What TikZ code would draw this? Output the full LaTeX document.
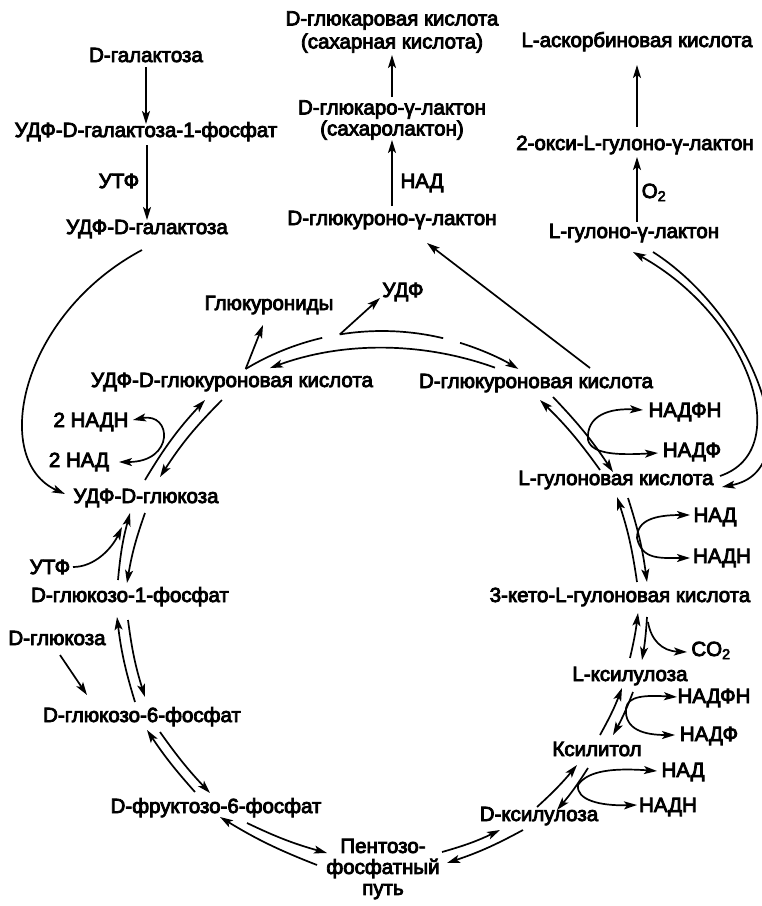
\documentclass[tikz,border=0pt]{standalone}
\usepackage{fontspec}
\setmainfont{Liberation Sans}[FakeBold=4]
\usetikzlibrary{arrows.meta,calc}
\begin{document}
\begin{tikzpicture}[x=1pt,y=-1pt,
  lbl/.style={inner sep=0pt, text height=14pt, text depth=4pt, font=\fontsize{20.5}{23}\selectfont},
  mlbl/.style={inner sep=0pt, align=center},
  ln/.style={line width=1.7pt},
  arr/.style={line width=1.7pt, -{Stealth[length=13pt,width=8pt,inset=3pt]}},
  arrs/.style={line width=1.7pt, {Stealth[length=13pt,width=8pt,inset=3pt]}-{Stealth[length=13pt,width=8pt,inset=3pt]}}]
\fill[white] (0,0) rectangle (762,906);
\path[use as bounding box] (0,0) rectangle (762,906);

% ---- nodes ----
\node[lbl] (gal) at (146,57) {D-галактоза};
\node[lbl] (udpgal1p) at (146,132) {УДФ-D-галактоза-1-фосфат};
\node[lbl] (utf1) at (119,183) {УТФ};
\node[lbl] (udpgal) at (147,229) {УДФ-D-галактоза};
\node[mlbl,font=\fontsize{20.5}{23}\selectfont] (glucar) at (392,32) {D-глюкаровая кислота\\(сахарная кислота)};
\node[mlbl,font=\fontsize{20.5}{21}\selectfont] (glucarlac) at (392,120) {D-глюкаро-γ-лактон\\(сахаролактон)};
\node[lbl] (nad1) at (422,183) {НАД};
\node[lbl] (glclac) at (392,220) {D-глюкуроно-γ-лактон};
\node[lbl] (asc) at (637,42) {L-аскорбиновая кислота};
\node[lbl] (oxy) at (635,145) {2-окси-L-гулоно-γ-лактон};
\node[lbl] (o2) at (654,193) {O\textsubscript{2}};
\node[lbl] (gullac) at (634,233) {L-гулоно-γ-лактон};
\node[lbl] (gluc) at (269,305) {Глюкурониды};
\node[lbl] (udp) at (403,292) {УДФ};
\node[lbl] (udpglcA) at (232,382) {УДФ-D-глюкуроновая кислота};
\node[lbl] (glcA) at (536,383) {D-глюкуроновая кислота};
\node[lbl] (nadh2) at (91,422) {2 НАДН};
\node[lbl] (nad2) at (79,462) {2 НАД};
\node[lbl] (udpglc) at (146,498) {УДФ-D-глюкоза};
\node[lbl] (utf2) at (50,569) {УТФ};
\node[lbl] (g1p) at (130,597) {D-глюкозо-1-фосфат};
\node[lbl] (glc) at (57,640) {D-глюкоза};
\node[lbl] (g6p) at (142,717) {D-глюкозо-6-фосфат};
\node[lbl] (f6p) at (216,808) {D-фруктозо-6-фосфат};
\node[mlbl,font=\fontsize{20.5}{21}\selectfont] (ppp) at (383,869) {Пентозо-\\фосфатный\\путь};
\node[lbl] (dxyl) at (539,816) {D-ксилулоза};
\node[lbl] (xylt) at (597,751) {Ксилитол};
\node[lbl] (nad3) at (683,772) {НАД};
\node[lbl] (nadh3) at (668,807) {НАДН};
\node[lbl] (lxyl) at (630,676) {L-ксилулоза};
\node[lbl] (nadph3) at (714,698) {НАДФН};
\node[lbl] (nadp3) at (709,736) {НАДФ};
\node[lbl] (keto) at (620,597) {3-кето-L-гулоновая кислота};
\node[lbl] (co2) at (711,651) {CO\textsubscript{2}};
\node[lbl] (gulon) at (616,480) {L-гулоновая кислота};
\node[lbl] (nadph1) at (685,412) {НАДФН};
\node[lbl] (nadp1) at (692,452) {НАДФ};
\node[lbl] (nad4) at (715,517) {НАД};
\node[lbl] (nadh4) at (722,558) {НАДН};

% ---- top-left column ----
\draw[arr] ([shift={(0,10)}]gal.center) -- ([shift={(0,-8)}]udpgal1p.center);
\draw[arr] ([shift={(1,13)}]udpgal1p.center) -- ([shift={(0,-9)}]udpgal.center);
\draw[arr] ([shift={(-5,21)}]udpgal.center) .. controls (20,315) and (-10,460) .. ([shift={(-81,-4)}]udpglc.center);

% ---- top-middle column ----
\draw[arr] ([shift={(0,-23)}]glucarlac.center) -- ([shift={(0,23)}]glucar.center);
\draw[arr] ([shift={(0,-14)}]glclac.center) -- ([shift={(0,20)}]glucarlac.center);
\draw[arr] ([shift={(54,-15)}]glcA.center) -- ([shift={(35,23)}]glclac.center);

% ---- top-right column ----
\draw[arr] ([shift={(2,-18)}]oxy.center) -- ([shift={(0,23)}]asc.center);
\draw[arr] ([shift={(3,-11)}]gullac.center) -- ([shift={(2,12)}]oxy.center);
\draw[arr] ([shift={(104,-4)}]gulon.center) .. controls (797,450) and (747,315) .. ([shift={(-1,19)}]gullac.center);
\draw[arr] ([shift={(19,19)}]gullac.center) .. controls (752,315) and (812,470) .. ([shift={(106,7)}]gulon.center);

% ---- arcs between UDP-glucuronic acid and D-glucuronic acid ----
\coordinate (uc) at (382,595);
\coordinate (lc) at (383,677);
\coordinate (ua) at ([shift={(121.1:264pt)}]uc);
\coordinate (ub) at ([shift={(99.2:264pt)}]uc);
\draw[ln] (ua) arc[start angle=121.1, end angle=103.1, radius=264pt];
\draw[ln] (ub) arc[start angle=99.2, end angle=76.6, radius=264pt];
\draw[arr] ([shift={(72.8:264pt)}]uc) arc[start angle=72.8, end angle=58.9, radius=264pt];
\draw[arr] ([shift={(70.1:329pt)}]lc) arc[start angle=70.1, end angle=110.1, radius=329pt];
\draw[arr] (ua) -- ([shift={(-6,20)}]gluc.center);
\draw[arr] (ub) -- ([shift={(-23,6)}]udp.center);

% ---- left ring ----
\draw[arr] ([shift={(-1,-18)}]udpglc.center) to[bend left=6] ([shift={(-27,18)}]udpglcA.center);
\draw[arr] ([shift={(-10,18)}]udpglcA.center) to[bend right=6] ([shift={(14,-21)}]udpglc.center);
\draw[arrs] ([shift={(42,-2)}]nadh2.center) .. controls (172,412) and (175,462) .. ([shift={(40,0)}]nad2.center);

\draw[arr] ([shift={(-12,-17)}]g1p.center) to[bend left=5] ([shift={(-16,15)}]udpglc.center);
\draw[arr] ([shift={(-1,15)}]udpglc.center) to[bend right=5] ([shift={(-3,-14)}]g1p.center);
\draw[arr] ([shift={(23,-2)}]utf2.center) .. controls (95,567) and (112,548) .. ([shift={(-24,29)}]udpglc.center);

\draw[arr] ([shift={(-7,-15)}]g6p.center) to[bend left=5] ([shift={(-13,20)}]g1p.center);
\draw[arr] ([shift={(-2,23)}]g1p.center) to[bend right=5] ([shift={(3,-20)}]g6p.center);
\draw[arr] ([shift={(3,15)}]glc.center) -- ([shift={(-55,-22)}]g6p.center);

\draw[arr] ([shift={(-21,-16)}]f6p.center) to[bend left=4] ([shift={(5,13)}]g6p.center);
\draw[arr] ([shift={(18,15)}]g6p.center) to[bend right=4] ([shift={(-6,-15)}]f6p.center);

% ---- bottom ----
\draw[arr] ([shift={(31,15)}]f6p.center) to[bend right=5] ([shift={(-56,-16)}]ppp.center);
\draw[arr] ([shift={(-66,-4)}]ppp.center) to[bend left=5] ([shift={(4,9)}]f6p.center);
\draw[arr] ([shift={(59,-17)}]ppp.center) to[bend right=5] ([shift={(-39,14)}]dxyl.center);
\draw[arr] ([shift={(-16,14)}]dxyl.center) to[bend left=5] ([shift={(64,-6)}]ppp.center);

% ---- right ring ----
\draw[arr] ([shift={(-2,-9)}]dxyl.center) to[bend right=4] ([shift={(-20,14)}]xylt.center);
\draw[arr] ([shift={(-9,17)}]xylt.center) to[bend left=4] ([shift={(18,-6)}]dxyl.center);
\coordinate (lp4) at ([shift={(-19,34)}]xylt.center);
\draw[arr] (lp4) .. controls (588,770) and (615,768) .. ([shift={(-26,-1)}]nad3.center);
\draw[arr] (lp4) .. controls (576,800) and (600,806) .. ([shift={(-31,-2)}]nadh3.center);

\draw[arr] ([shift={(3,-16)}]xylt.center) to[bend right=4] ([shift={(-8,12)}]lxyl.center);
\draw[arr] ([shift={(3,16)}]lxyl.center) to[bend left=4] ([shift={(16,-16)}]xylt.center);
\coordinate (lp3) at ([shift={(-4,32)}]lxyl.center);
\draw[arr] (lp3) .. controls (628,696) and (645,695) .. ([shift={(-37,-1)}]nadph3.center);
\draw[arr] (lp3) .. controls (624,730) and (645,735) .. ([shift={(-34,-1)}]nadp3.center);

\draw[arr] ([shift={(0,-18)}]lxyl.center) to[bend right=3] ([shift={(18,16)}]keto.center);
\draw[arr] ([shift={(27,20)}]keto.center) to[bend left=3] ([shift={(12,-16)}]lxyl.center);
\draw[arr] ([shift={(28,25)}]keto.center) .. controls (651,640) and (662,651) .. ([shift={(-24,1)}]co2.center);

\draw[arr] ([shift={(17,-15)}]keto.center) to[bend right=5] ([shift={(1,17)}]gulon.center);
\draw[arr] ([shift={(12,18)}]gulon.center) to[bend left=5] ([shift={(27,-15)}]keto.center);
\coordinate (lp2) at ([shift={(21,58)}]gulon.center);
\draw[arr] (lp2) .. controls (637,520) and (655,515) .. ([shift={(-25,-2)}]nad4.center);
\draw[arr] (lp2) .. controls (642,560) and (660,558) .. ([shift={(-32,0)}]nadh4.center);

\draw[arr] ([shift={(-16,-10)}]gulon.center) to[bend right=5] ([shift={(4,17)}]glcA.center);
\draw[arr] ([shift={(17,14)}]glcA.center) to[bend left=5] ([shift={(-3,-8)}]gulon.center);
\coordinate (lp1) at ([shift={(52,57)}]glcA.center);
\draw[arr] (lp1) .. controls (586,415) and (610,408) .. ([shift={(-42,-2)}]nadph1.center);
\draw[arr] (lp1) .. controls (592,455) and (620,455) .. ([shift={(-34,1)}]nadp1.center);
\end{tikzpicture}
\end{document}
